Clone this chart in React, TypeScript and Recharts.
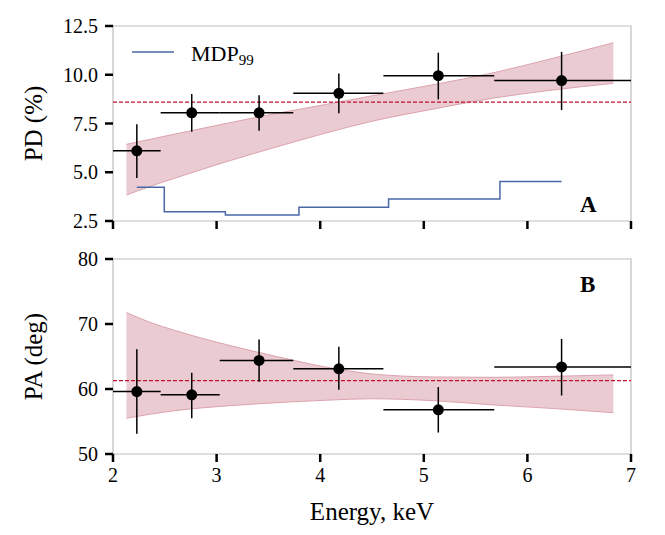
import React from "react";
import {
  ComposedChart,
  XAxis,
  YAxis,
  Area,
  Line,
  Scatter,
  ErrorBar,
  ReferenceLine,
  ReferenceArea,
} from "recharts";

// energy bins (keV)
const energy = [2.23, 2.76, 3.41, 4.18, 5.14, 6.33];
const binEdges = [2.0, 2.46, 3.03, 3.74, 4.61, 5.68, 7.0];

// polarization degree (%)
const pd = [6.1, 8.05, 8.05, 9.05, 9.95, 9.7];
const pdLow = [4.7, 7.08, 7.13, 8.02, 8.74, 8.19];
const pdHigh = [7.46, 9.01, 8.95, 10.07, 11.13, 11.17];
const mdp99 = [4.23, 2.98, 2.81, 3.2, 3.63, 4.52];
const pdMean = 8.6;

// polarization angle (deg)
const pa = [59.6, 59.1, 64.4, 63.1, 56.8, 63.4];
const paLow = [53.1, 55.5, 61.1, 59.9, 53.3, 59.0];
const paHigh = [66.1, 62.5, 67.6, 66.5, 60.3, 67.7];
const paMean = 61.3;

// model confidence bands
const bandEnergy = [2.13, 2.35, 2.6, 3.1, 3.58, 4.06, 4.48, 5.1, 5.67, 6.25, 6.83];
const pdBandLow = [3.83, 4.26, 4.7, 5.55, 6.3, 7.02, 7.59, 8.25, 8.8, 9.22, 9.56];
const pdBandHigh = [6.43, 6.68, 6.96, 7.51, 8.02, 8.48, 8.9, 9.5, 10.1, 10.85, 11.64];
const paBandLow = [55.5, 56.1, 56.67, 57.4, 57.9, 58.27, 58.5, 58.2, 57.55, 57.0, 56.36];
const paBandHigh = [71.77, 70.3, 69.0, 66.8, 65.0, 63.36, 62.35, 61.85, 61.8, 61.95, 62.17];

const xTicks = [2, 3, 4, 5, 6, 7];
const pdTicks = [2.5, 5, 7.5, 10, 12.5];
const paTicks = [50, 60, 70, 80];

const FONT = "Liberation Serif, Times New Roman, serif";
const BAND_FILL = "#eacbd1";
const BAND_STROKE = "#dca3ae";
const MEAN_RED = "#c0112d";

const pdPoints = energy.map((e, i) => ({
  x: e,
  y: pd[i],
  xErr: [e - binEdges[i], binEdges[i + 1] - e],
  yErr: [pd[i] - pdLow[i], pdHigh[i] - pd[i]],
}));
const paPoints = energy.map((e, i) => ({
  x: e,
  y: pa[i],
  xErr: [e - binEdges[i], binEdges[i + 1] - e],
  yErr: [pa[i] - paLow[i], paHigh[i] - pa[i]],
}));
const mdpData = energy.map((e, i) => ({ x: e, mdp: mdp99[i] }));
const pdBand = bandEnergy.map((e, i) => ({ x: e, band: [pdBandLow[i], pdBandHigh[i]] }));
const paBand = bandEnergy.map((e, i) => ({ x: e, band: [paBandLow[i], paBandHigh[i]] }));

const tickLine = { stroke: "#000", strokeWidth: 2.5 };
const tickFont = { fill: "#000", fontSize: 20, fontFamily: FONT };
const labelStyle = { textAnchor: "middle", fontSize: 25, fontFamily: FONT, fill: "#000" };

const Dot = (props: any) => <circle cx={props.cx} cy={props.cy} r={5.5} fill="#000" />;

const App: React.FC = () => (
  <div style={{ position: "absolute", left: 0, top: 0, width: 665, height: 535, background: "#fff" }}>
    <ComposedChart width={665} height={240} margin={{ top: 26, right: 34, left: 0, bottom: 0 }}>
      <XAxis
        type="number"
        dataKey="x"
        domain={[2, 7]}
        ticks={xTicks}
        allowDataOverflow
        height={19}
        axisLine={false}
        tickLine={tickLine}
        tickSize={8}
        tickFormatter={() => ""}
      />
      <YAxis
        type="number"
        domain={[2.5, 12.5]}
        ticks={pdTicks}
        allowDataOverflow
        width={113}
        axisLine={false}
        tickLine={tickLine}
        tickSize={8}
        tickMargin={7}
        tick={tickFont}
        tickFormatter={(v: number) => v.toFixed(1)}
        label={{ value: "PD (%)", angle: -90, position: "insideLeft", offset: 33, style: labelStyle }}
      />
      <ReferenceArea x1={2} x2={7} y1={2.5} y2={12.5} fill="none" stroke="#bdbdbd" strokeWidth={1.2} ifOverflow="visible" />
      <Area
        data={pdBand}
        dataKey="band"
        type="monotone"
        fill={BAND_FILL}
        fillOpacity={1}
        stroke={BAND_STROKE}
        strokeWidth={1}
        isAnimationActive={false}
      />
      <Line
        data={mdpData}
        dataKey="mdp"
        type="step"
        stroke="#4a67a6"
        strokeWidth={1.5}
        dot={false}
        isAnimationActive={false}
      />
      <ReferenceLine y={pdMean} stroke={MEAN_RED} strokeDasharray="4 2" strokeWidth={1.2} />
      <Scatter data={pdPoints} dataKey="y" shape={Dot} isAnimationActive={false}>
        <ErrorBar direction="x" dataKey="xErr" width={0} stroke="#000" strokeWidth={1.5} />
        <ErrorBar direction="y" dataKey="yErr" width={0} stroke="#000" strokeWidth={1.5} />
      </Scatter>
    </ComposedChart>

    <div style={{ position: "absolute", left: 0, top: 240 }}>
      <ComposedChart width={665} height={295} margin={{ top: 19, right: 34, left: 0, bottom: 0 }}>
        <XAxis
          type="number"
          dataKey="x"
          domain={[2, 7]}
          ticks={xTicks}
          allowDataOverflow
          height={81}
          axisLine={false}
          tickLine={tickLine}
          tickSize={8}
          tickMargin={6}
          tick={tickFont}
          label={{ value: "Energy, keV", position: "insideBottom", offset: 15, style: labelStyle }}
        />
        <YAxis
          type="number"
          domain={[50, 80]}
          ticks={paTicks}
          allowDataOverflow
          width={113}
          axisLine={false}
          tickLine={tickLine}
          tickSize={8}
          tickMargin={7}
          tick={tickFont}
          label={{ value: "PA (deg)", angle: -90, position: "insideLeft", offset: 33, style: labelStyle }}
        />
        <ReferenceArea x1={2} x2={7} y1={50} y2={80} fill="none" stroke="#bdbdbd" strokeWidth={1.2} ifOverflow="visible" />
        <Area
          data={paBand}
          dataKey="band"
          type="monotone"
          fill={BAND_FILL}
          fillOpacity={1}
          stroke={BAND_STROKE}
          strokeWidth={1}
          isAnimationActive={false}
        />
        <ReferenceLine y={paMean} stroke={MEAN_RED} strokeDasharray="4 2" strokeWidth={1.2} />
        <Scatter data={paPoints} dataKey="y" shape={Dot} isAnimationActive={false}>
          <ErrorBar direction="x" dataKey="xErr" width={0} stroke="#000" strokeWidth={1.5} />
          <ErrorBar direction="y" dataKey="yErr" width={0} stroke="#000" strokeWidth={1.5} />
        </Scatter>
      </ComposedChart>
    </div>

    <svg
      width={665}
      height={535}
      style={{ position: "absolute", left: 0, top: 0, pointerEvents: "none" }}
    >
      <line x1={132} y1={52} x2={174} y2={52} stroke="#4a67a6" strokeWidth={1.5} />
      <text x={191} y={61} fontSize={22} fontFamily={FONT} fill="#000">
        MDP
        <tspan fontSize={15} dy={4}>99</tspan>
      </text>
      <text x={580} y={212} fontSize={23} fontWeight="bold" fontFamily={FONT} fill="#000">A</text>
      <text x={580} y={292} fontSize={23} fontWeight="bold" fontFamily={FONT} fill="#000">B</text>
    </svg>
  </div>
);

export default App;
